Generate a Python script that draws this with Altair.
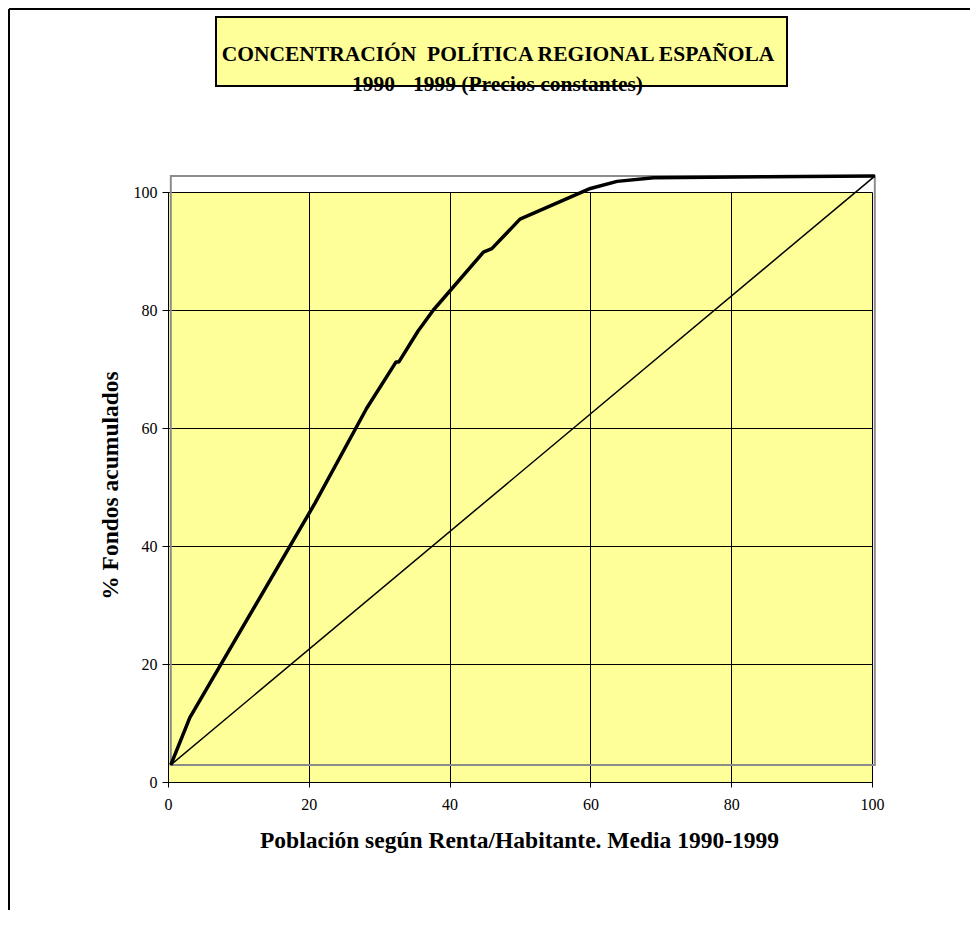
import altair as alt
import pandas as pd

# ---- data ----
x_ticks = [0, 20, 40, 60, 80, 100]
y_ticks = [0, 20, 40, 60, 80, 100]

curve_x = [0.4, 3.1, 20.9, 28.2, 32.4, 32.8, 35.5, 37.7, 44.8, 46.0, 50.0, 60.0, 63.8, 69.0, 85.0, 100.4]
curve_y = [2.9, 10.9, 47.3, 63.3, 71.2, 71.2, 76.4, 80.0, 89.8, 90.4, 95.4, 100.6, 101.8, 102.4, 102.6, 102.7]

diag_x = [0.4, 100.4]
diag_y = [2.9, 102.7]

box_x = [0.4, 100.4]
box_y = [2.9, 102.7]

title_line1 = "CONCENTRACIÓN \u00a0POLÍTICA REGIONAL ESPAÑOLA"
title_line2 = "1990 - 1999 (Precios constantes)"
x_title = "Población según Renta/Habitante. Media 1990-1999"
y_title = "% Fondos acumulados"

FONT = "Liberation Serif"
YELLOW = "#FFFF99"

W, H = 704, 590
PAD = {"left": 160, "top": 184, "right": 98, "bottom": 128}

curve_df = pd.DataFrame({"x": curve_x, "y": curve_y, "i": list(range(len(curve_x)))})
diag_df = pd.DataFrame({"x": diag_x, "y": diag_y, "i": [0, 1]})
box_df = pd.DataFrame({"x": [box_x[0]], "x2": [box_x[1]], "y": [box_y[0]], "y2": [box_y[1]]})
one = pd.DataFrame({"a": [0]})

x_scale = alt.Scale(domain=[0, 100], nice=False)
y_scale = alt.Scale(domain=[0, 100], nice=False)

x_axis = alt.Axis(
    values=x_ticks, grid=True, gridColor="black", gridWidth=1,
    domainColor="black", domainWidth=1, tickColor="black", tickSize=5,
    labelFont=FONT, labelFontSize=16, labelColor="black", labelPadding=9,
    labelFlush=False, labelOverlap=False,
    title=x_title, titleFont=FONT, titleFontSize=23.5, titleFontWeight="bold",
    titleColor="black", titleX=351, titleY=65, titleAlign="center",
    titleBaseline="alphabetic",
)
y_axis = alt.Axis(
    values=y_ticks, grid=True, gridColor="black", gridWidth=1,
    domainColor="black", domainWidth=1, tickColor="black", tickSize=6,
    labelFont=FONT, labelFontSize=16, labelColor="black", labelPadding=5,
    labelFlush=False, labelOverlap=False,
    title=y_title, titleFont=FONT, titleFontSize=23.5, titleFontWeight="bold",
    titleColor="black", titleAngle=270, titleX=-51, titleY=293,
    titleAlign="center", titleBaseline="alphabetic",
)

box = alt.Chart(box_df).mark_rect(fillOpacity=0, stroke="#8c8c8c", strokeWidth=2).encode(
    x=alt.X("x:Q", scale=x_scale, axis=x_axis),
    x2="x2:Q",
    y=alt.Y("y:Q", scale=y_scale, axis=y_axis),
    y2="y2:Q",
)

diag = alt.Chart(diag_df).mark_line(color="black", strokeWidth=1.5).encode(
    x=alt.X("x:Q", scale=x_scale),
    y=alt.Y("y:Q", scale=y_scale),
    order="i:Q",
)

curve = alt.Chart(curve_df).mark_line(color="black", strokeWidth=3.5, strokeJoin="round").encode(
    x=alt.X("x:Q", scale=x_scale),
    y=alt.Y("y:Q", scale=y_scale),
    order="i:Q",
)

# decorations: outer frame and title box
frame_left = alt.Chart(one).mark_rule(color="black", strokeWidth=2).encode(
    x=alt.value(-159), y=alt.value(-183), y2=alt.value(H + PAD["bottom"])
)
frame_top = alt.Chart(one).mark_rule(color="black", strokeWidth=2).encode(
    y=alt.value(-183), x=alt.value(-159), x2=alt.value(W + PAD["right"])
)
title_box = alt.Chart(one).mark_rect(fill=YELLOW, stroke="black", strokeWidth=2).encode(
    x=alt.value(48), x2=alt.value(619), y=alt.value(-175), y2=alt.value(-106)
)
t1 = alt.Chart(one).mark_text(
    font=FONT, fontSize=21.5, fontWeight="bold", color="black",
    align="center", baseline="alphabetic",
).encode(x=alt.value(330), y=alt.value(-131), text=alt.value(title_line1))
t2 = alt.Chart(one).mark_text(
    font=FONT, fontSize=21.5, fontWeight="bold", color="black",
    align="center", baseline="alphabetic",
).encode(x=alt.value(329.5), y=alt.value(-101), text=alt.value(title_line2))

chart = alt.layer(box, diag, curve, frame_left, frame_top, title_box, t1, t2).properties(
    width=W, height=H, padding=PAD, autosize=alt.AutoSizeParams(type="none"),
    background="white",
).configure_view(fill=YELLOW, strokeWidth=0)

chart.save("out.html", embed_options={"renderer": "svg", "actions": False})
